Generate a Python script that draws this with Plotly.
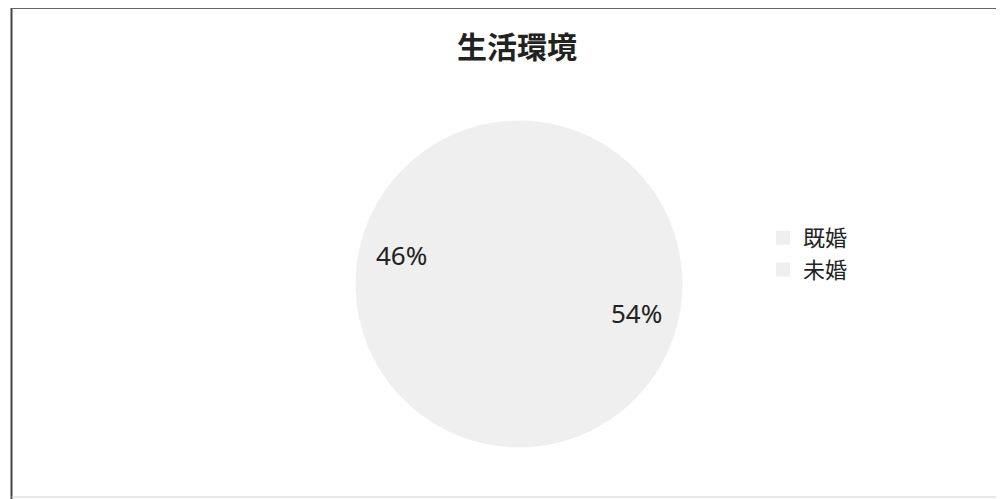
import math
import plotly.graph_objects as go

title = "生活環境"
labels = ["既婚", "未婚"]
values = [54, 46]
colors = ["#efefef", "#efefef"]

# page body has an 8px margin; figure sized to the visible area
OFF = 8
W, H = 1004 - OFF, 499 - OFF


def px(x):
    return (x - OFF) / W


def py(y):
    return (H - (y - OFF)) / H


# pie placement (screen pixels)
cx, cy, R = 519, 284, 163
ROT = 6.5  # start angle, degrees clockwise from 12 o'clock

fig = go.Figure()
fig.add_trace(go.Pie(
    labels=labels,
    values=values,
    sort=False,
    direction="clockwise",
    rotation=ROT,
    marker=dict(colors=colors, line=dict(color="#efefef", width=1)),
    textinfo="none",
    domain=dict(x=[px(cx - R), px(cx + R)], y=[py(cy + R), py(cy - R)]),
    hoverinfo="label+percent",
))

# percentage labels placed at each slice's mid angle (derived from values)
total = sum(values)
start = 0.0
annotations = []
for lab, v in zip(labels, values):
    frac = v / total
    mid = math.radians(ROT) + (start + frac / 2) * 2 * math.pi
    start += frac
    r = 0.745 * R
    x = cx + r * math.sin(mid)
    y = cy - r * math.cos(mid)
    annotations.append(dict(
        x=px(x), y=py(y), xref="paper", yref="paper", showarrow=False,
        text=f"{round(frac * 100)}%", xanchor="center", yanchor="middle",
        font=dict(family="Noto Sans, Open Sans, sans-serif", size=26, color="#222222"),
    ))

fig.update_layout(
    width=W, height=H,
    margin=dict(l=0, r=0, t=0, b=0),
    paper_bgcolor="white",
    plot_bgcolor="white",
    title=dict(text="<b>" + title + "</b>", x=px(517), xanchor="center", y=py(47), yanchor="middle",
               font=dict(family="Noto Sans CJK JP, sans-serif", size=30, color="#222222")),
    legend=dict(x=px(763), xanchor="left", y=py(217), yanchor="top",
                font=dict(family="Noto Sans CJK JP, sans-serif", size=22, color="#222222"),
                itemsizing="constant"),
    showlegend=True,
    annotations=annotations,
    shapes=[
        dict(type="line", xref="paper", yref="paper", x0=px(11.5), x1=px(11.5), y0=0, y1=py(8),
             line=dict(color="#444444", width=2)),
        dict(type="line", xref="paper", yref="paper", x0=px(11.5), x1=1.0, y0=py(8), y1=py(8),
             line=dict(color="#666666", width=2)),
        dict(type="line", xref="paper", yref="paper", x0=px(11.5), x1=1.0, y0=py(497), y1=py(497),
             line=dict(color="#d0d0d0", width=1)),
    ],
)

fig.write_html("out.html")
